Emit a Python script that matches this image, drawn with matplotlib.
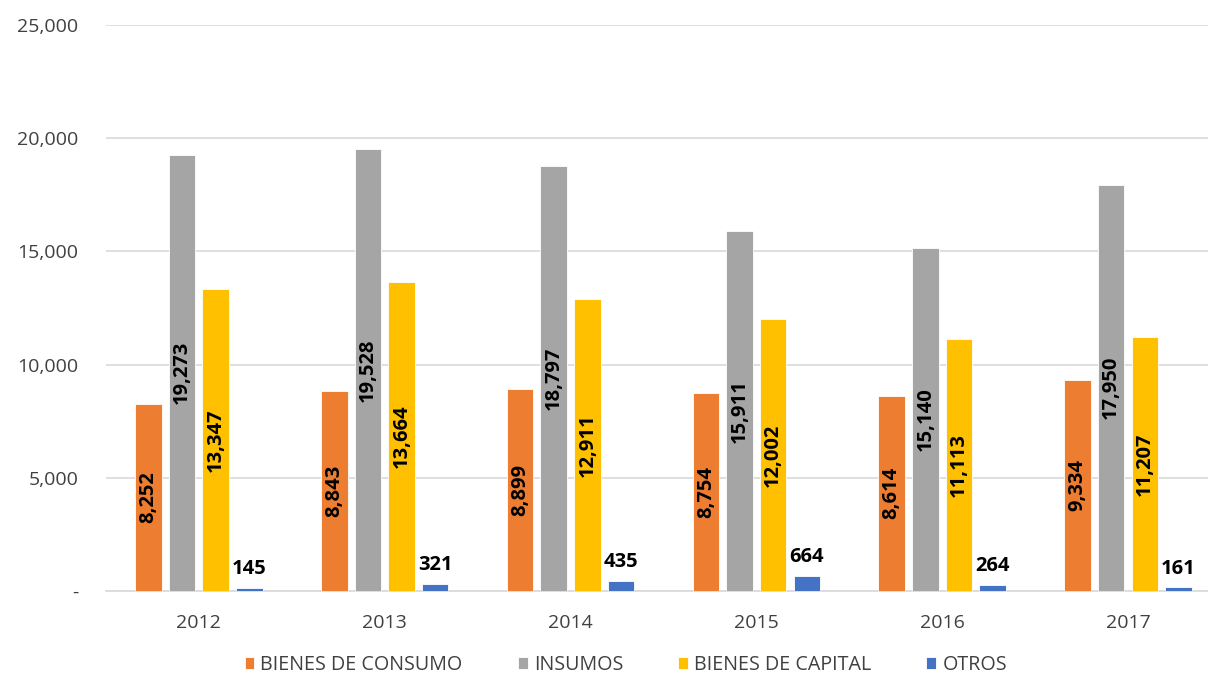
import numpy as np
import matplotlib
matplotlib.use("Agg")
import matplotlib.pyplot as plt
from matplotlib.ticker import FuncFormatter

plt.rcParams["font.family"] = ["Open Sans", "DejaVu Sans"]

anios = ["2012", "2013", "2014", "2015", "2016", "2017"]
bienes_consumo = [8252, 8843, 8899, 8754, 8614, 9334]
insumos = [19273, 19528, 18797, 15911, 15140, 17950]
bienes_capital = [13347, 13664, 12911, 12002, 11113, 11207]
otros = [145, 321, 435, 664, 264, 161]

series = [
    ("BIENES DE CONSUMO", bienes_consumo, "#ED7D31"),
    ("INSUMOS", insumos, "#A5A5A5"),
    ("BIENES DE CAPITAL", bienes_capital, "#FFC000"),
    ("OTROS", otros, "#4472C4"),
]

fig = plt.figure(figsize=(12.08, 6.83), dpi=100)
# el área de trazado se sale un poco por la derecha, como en el original
ax = fig.add_axes([0.0877, 0.135, 0.923, 0.828])

x = np.arange(len(anios))
ancho = 0.143
paso = 0.181

for i, (nombre, valores, color) in enumerate(series):
    pos = x + (i - 1.5) * paso
    barras = ax.bar(pos, valores, width=ancho, color=color, label=nombre,
                    edgecolor="white", linewidth=0.6, zorder=3)
    for b, v in zip(barras, valores):
        cx = b.get_x() + b.get_width() / 2
        if nombre == "OTROS":
            ax.text(cx, v + 380, f"{v:,}", ha="center", va="bottom",
                    fontsize=14.5, fontweight="bold", color="black", zorder=4)
        else:
            ax.text(cx, v / 2, f"{v:,}", ha="center", va="center", rotation=90,
                    fontsize=14.5, fontweight="bold", color="black", zorder=4)

ax.set_ylim(0, 25000)
ax.set_xlim(-0.5, len(anios) - 0.5)
ax.set_yticks(range(0, 25001, 5000))
ax.yaxis.set_major_formatter(FuncFormatter(lambda v, p: "-" if v == 0 else f"{int(v):,}"))
ax.set_xticks(x)
ax.set_xticklabels(anios)
ax.tick_params(axis="both", length=0, labelsize=14, colors="#404040")
ax.tick_params(axis="y", pad=20)
ax.tick_params(axis="x", pad=17)

ax.grid(axis="y", color="#D9D9D9", linewidth=1.2, zorder=0)
for s in ["top", "right", "left"]:
    ax.spines[s].set_visible(False)
ax.spines["bottom"].set_color("#D9D9D9")
ax.spines["bottom"].set_linewidth(1.2)

fig.legend(*ax.get_legend_handles_labels(), loc="lower center", bbox_to_anchor=(0.518, 0.0),
           ncol=4, frameon=False, fontsize=14.2, handlelength=0.5, handleheight=0.5,
           columnspacing=2.8, handletextpad=0.3, labelcolor="#404040",
           borderaxespad=0.2, borderpad=0.2)

fig.savefig("out.png", dpi=100)
